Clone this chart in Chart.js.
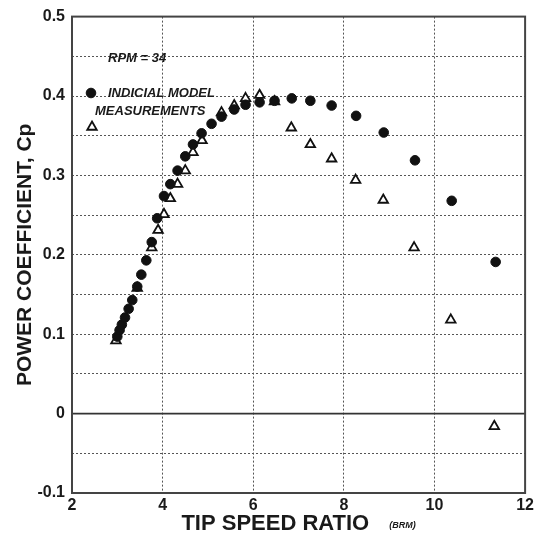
<!DOCTYPE html>
<html><head><meta charset="utf-8">
<script src="https://cdn.jsdelivr.net/npm/chart.js@4.4.1/dist/chart.umd.min.js"></script>
<style>html,body{margin:0;padding:0;background:#fff}#wrap{width:537px;height:548px}</style>
</head><body><div id="wrap"><canvas id="c" width="537" height="548"></canvas></div>
<script>
// Tip speed ratio / power coefficient, RPM = 34
const modelTSR = [3.00,3.05,3.10,3.17,3.25,3.33,3.44,3.53,3.64,3.76,3.88,4.03,4.17,4.33,4.50,4.67,4.86,5.08,5.30,5.58,5.83,6.14,6.47,6.85,7.26,7.73,8.27,8.88,9.57,10.38,11.35];
const modelCp  = [0.097,0.105,0.112,0.121,0.132,0.143,0.160,0.175,0.193,0.216,0.246,0.274,0.289,0.306,0.324,0.339,0.353,0.365,0.374,0.383,0.389,0.392,0.394,0.397,0.394,0.388,0.375,0.354,0.319,0.268,0.191];
const measTSR  = [2.97,3.44,3.76,3.90,4.03,4.17,4.33,4.50,4.67,4.87,5.30,5.58,5.83,6.14,6.47,6.84,7.26,7.73,8.26,8.87,9.55,10.36,11.32];
const measCp   = [0.092,0.158,0.209,0.231,0.251,0.271,0.289,0.306,0.329,0.344,0.379,0.388,0.397,0.401,0.393,0.360,0.339,0.321,0.294,0.269,0.209,0.118,-0.016];
const xTickValues = [2,4,6,8,10,12];
const yTickValues = [-0.1,0,0.1,0.2,0.3,0.4,0.5];
const seriesNames = ['INDICIAL MODEL','MEASUREMENTS'];
const rpmNote = 'RPM = 34';
const xTitle = 'TIP SPEED RATIO';
const xTitleNote = '(BRM)';
const yTitle = 'POWER COEFFICIENT, Cp';

const FONT = '"Liberation Sans", Arial, Helvetica, sans-serif';
const INK = '#1a1a1a';

const toPts = (xs, ys) => xs.map((x, i) => ({x: x, y: ys[i]}));

const decor = {
  id: 'decor',
  beforeDatasetsDraw(chart) {
    const {ctx, chartArea: a, scales: {x, y}} = chart;
    ctx.save();
    const y0 = y.getPixelForValue(0);
    ctx.strokeStyle = '#333';
    ctx.lineWidth = 1.6;
    ctx.beginPath(); ctx.moveTo(a.left, y0); ctx.lineTo(a.right, y0); ctx.stroke();
    ctx.strokeStyle = '#444';
    ctx.lineWidth = 2;
    ctx.strokeRect(a.left, a.top, a.right - a.left, a.bottom - a.top);
    ctx.restore();
  },
  afterDraw(chart) {
    const {ctx, chartArea: a} = chart;
    ctx.save();
    ctx.fillStyle = INK;
    ctx.textBaseline = 'middle';
    ctx.textAlign = 'left';
    ctx.font = 'italic bold 13px ' + FONT;
    ctx.fillText(rpmNote, 108, 58);
    ctx.fillText(seriesNames[0], 108, 93);
    ctx.fillText(seriesNames[1], 95, 111);
    const ds0 = chart.data.datasets[0], ds1 = chart.data.datasets[1];
    const H = Chart.helpers;
    ctx.fillStyle = ds0.pointBackgroundColor; ctx.strokeStyle = ds0.pointBorderColor; ctx.lineWidth = 1;
    H.drawPoint(ctx, {pointStyle: 'circle', radius: ds0.pointRadius, rotation: 0, borderWidth: 1}, 91, 93);
    ctx.fillStyle = ds1.pointBackgroundColor; ctx.strokeStyle = ds1.pointBorderColor; ctx.lineWidth = ds1.pointBorderWidth;
    H.drawPoint(ctx, {pointStyle: 'triangle', radius: ds1.pointRadius, rotation: 0, borderWidth: ds1.pointBorderWidth}, 92, 127);
    ctx.fillStyle = INK;
    ctx.font = 'bold 22px ' + FONT;
    const w1 = ctx.measureText(xTitle).width;
    ctx.font = 'italic bold 9px ' + FONT;
    const w2 = ctx.measureText(xTitleNote).width;
    const gap = 20;
    const cx = (a.left + a.right) / 2;
    const sx = cx - (w1 + gap + w2) / 2;
    ctx.textBaseline = 'alphabetic';
    ctx.font = 'bold 22px ' + FONT;
    ctx.fillText(xTitle, sx, 530);
    ctx.font = 'italic bold 9px ' + FONT;
    ctx.fillText(xTitleNote, sx + w1 + gap, 528);
    ctx.restore();
  }
};

new Chart(document.getElementById('c'), {
  type: 'scatter',
  data: {
    datasets: [
      {label: seriesNames[0], data: toPts(modelTSR, modelCp), pointStyle: 'circle', pointRadius: 4.8,
       pointBackgroundColor: '#111', pointBorderColor: '#111', pointBorderWidth: 1, showLine: false},
      {label: seriesNames[1], data: toPts(measTSR, measCp), pointStyle: 'triangle', pointRadius: 5.5,
       pointBackgroundColor: '#fff', pointBorderColor: '#111', pointBorderWidth: 1.8, showLine: false}
    ]
  },
  options: {
    responsive: false,
    animation: false,
    devicePixelRatio: 1,
    layout: {padding: {left: 0, right: 11, top: 15, bottom: 0}},
    plugins: {legend: {display: false}, tooltip: {enabled: false}},
    scales: {
      x: {
        type: 'linear', min: 2, max: 12,
        afterFit: s => { s.height = 55; },
        afterBuildTicks: s => { s.ticks = xTickValues.map(v => ({value: v})); },
        ticks: {color: INK, font: {family: FONT, size: 16, weight: 'bold'}, padding: 3, maxRotation: 0,
                callback: v => String(v)},
        grid: {color: c => (c.tick && (c.tick.value === 2 || c.tick.value === 12)) ? 'rgba(0,0,0,0)' : '#555',
               lineWidth: 1, drawTicks: false, tickLength: 0},
        border: {display: false, dash: [2, 2]}
      },
      y: {
        type: 'linear', min: -0.1, max: 0.5,
        afterFit: s => { s.width = 72; },
        ticks: {stepSize: 0.05, color: INK, font: {family: FONT, size: 16, weight: 'bold'}, padding: 7,
                callback: v => {
                  const k = Math.round(v * 100);
                  if (k % 10 !== 0) return '';
                  const hit = yTickValues.find(t => Math.round(t * 100) === k);
                  return hit === 0 ? '0' : hit.toFixed(1);
                }},
        grid: {color: c => {
                 if (!c.tick) return '#555';
                 const k = Math.round(c.tick.value * 100);
                 return (k === -10 || k === 50 || k === 0) ? 'rgba(0,0,0,0)' : '#555';
               }, lineWidth: 1, drawTicks: false, tickLength: 0},
        border: {display: false, dash: [2, 2]},
        title: {display: true, text: yTitle, color: INK, font: {family: FONT, size: 21, weight: 'bold'},
                padding: {top: 13, bottom: 0}}
      }
    }
  },
  plugins: [decor]
});
</script></body></html>
